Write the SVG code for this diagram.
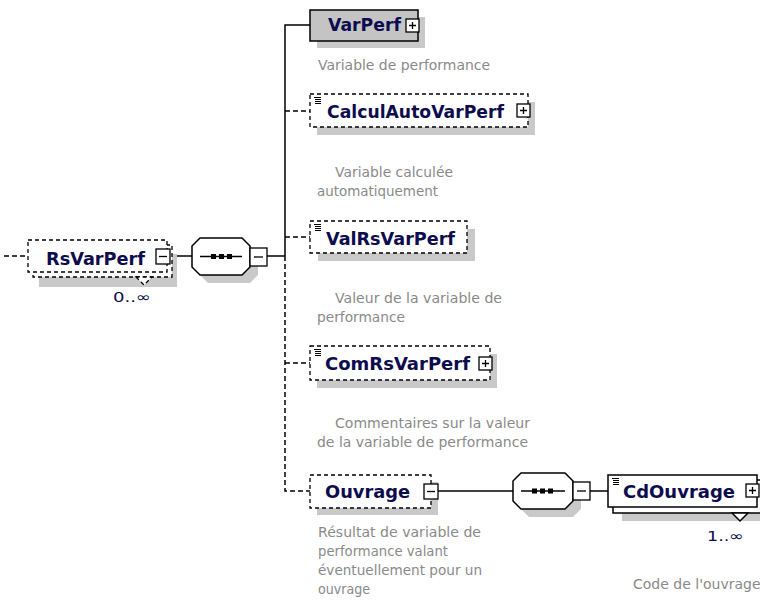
<svg xmlns="http://www.w3.org/2000/svg" xmlns:xlink="http://www.w3.org/1999/xlink" width="760" height="603" viewBox="0 0 760 603">
<style>
.name{font-family:"DejaVu Sans",Verdana,sans-serif;font-weight:bold;font-size:17px;fill:#0c0c4e}
.desc{font-family:"DejaVu Sans",Verdana,sans-serif;font-size:14px;fill:#8a8a8a}
.card{font-family:"DejaVu Sans",Verdana,sans-serif;font-size:14px;fill:#0c0c4e}
.shadow{fill:#c9c9c9}
.box{fill:#fff;stroke:#000;stroke-width:1.5}
.gbox{fill:#c4c4c4;stroke:#000;stroke-width:1.5}
.dbox{fill:#fff;stroke:#000;stroke-width:1.3;stroke-dasharray:4 3}
.ln{fill:none;stroke:#000;stroke-width:1.5}
.dln{fill:none;stroke:#000;stroke-width:1.5;stroke-dasharray:5 3}
</style>
<defs>
<g id="plus"><rect x="0" y="0" width="13" height="13" fill="#fff" stroke="#000" stroke-width="1.3"/><path d="M3,6.5H10M6.5,3V10" stroke="#000" stroke-width="1.3"/></g>
<g id="minus"><rect x="0" y="0" width="14" height="15" fill="#fff" stroke="#000" stroke-width="1.3"/><path d="M3,7.5H11" stroke="#000" stroke-width="1.3"/></g>
<g id="cminus"><rect x="0" y="0" width="17" height="18" fill="#fff" stroke="#000" stroke-width="1.3"/><path d="M4,9H13" stroke="#000" stroke-width="1.3"/></g>
<g id="icon"><path d="M0,0.5H7M1,2.5H7M1,4.5H7M1,6.5H7" stroke="#000" stroke-width="1"/></g>
<path id="oct1" d="M200,238H242L250,246V267L242,275H200L192,267V246Z"/>
<path id="oct2" d="M521,473H565L573,481V501L565,509H521L513,501V481Z"/>
</defs>
<rect width="760" height="603" fill="#fff"/>

<g id="connectors">
<path class="dln" d="M4,256H28"/>
<path class="ln" d="M170,256H192"/>
<path class="ln" d="M267,256H285"/>
<path class="ln" d="M310,25H285V256"/>
<path class="dln" d="M285,256V491H310"/>
<path class="dln" d="M285,111H310"/>
<path class="dln" d="M285,237H310"/>
<path class="dln" d="M285,363H310"/>
<path class="ln" d="M438,491H513"/>
<path class="ln" d="M590,491H608"/>
</g>

<g id="RsVarPerf">
<rect class="shadow" x="39" y="254" width="138" height="33"/>
<rect class="dbox" x="33" y="245" width="139" height="32"/>
<rect class="dbox" x="28" y="240" width="139" height="32"/>
<polygon class="dbox" points="136,277 144,285 152,277"/>
<text class="name" x="46" y="265" textLength="99" lengthAdjust="spacingAndGlyphs">RsVarPerf</text>
<use xlink:href="#minus" x="156" y="249"/>
<text class="card" x="113" y="302" textLength="38" lengthAdjust="spacingAndGlyphs">0..∞</text>
</g>

<g id="sequence1">
<use xlink:href="#oct1" class="shadow" transform="translate(8,8)"/>
<use xlink:href="#oct1" fill="#fff" stroke="#000" stroke-width="1.5"/>
<path class="ln" d="M200,256.5H242"/>
<rect x="211" y="254" width="5" height="5" fill="#000"/>
<rect x="219" y="254" width="5" height="5" fill="#000"/>
<rect x="227" y="254" width="5" height="5" fill="#000"/>
<use xlink:href="#cminus" x="250" y="248"/>
</g>

<g id="VarPerf">
<rect class="shadow" x="317" y="17" width="108" height="31"/>
<rect class="gbox" x="310" y="10" width="108" height="31"/>
<text class="name" x="328" y="31" textLength="73" lengthAdjust="spacingAndGlyphs">VarPerf</text>
<use xlink:href="#plus" x="406" y="19"/>
<text class="desc" x="318" y="70" textLength="172" lengthAdjust="spacingAndGlyphs">Variable de performance</text>
</g>

<g id="CalculAutoVarPerf">
<rect class="shadow" x="317" y="102" width="218" height="33"/>
<rect class="dbox" x="310" y="94" width="218" height="33"/>
<use xlink:href="#icon" x="314" y="97"/>
<text class="name" x="327" y="118" textLength="177" lengthAdjust="spacingAndGlyphs">CalculAutoVarPerf</text>
<use xlink:href="#plus" x="517" y="104"/>
<text class="desc" x="335" y="177" textLength="118" lengthAdjust="spacingAndGlyphs">Variable calculée</text>
<text class="desc" x="317" y="196" textLength="121" lengthAdjust="spacingAndGlyphs">automatiquement</text>
</g>

<g id="ValRsVarPerf">
<rect class="shadow" x="318" y="229" width="157" height="32"/>
<rect class="dbox" x="310" y="221" width="157" height="32"/>
<use xlink:href="#icon" x="314" y="224"/>
<text class="name" x="326" y="245" textLength="129" lengthAdjust="spacingAndGlyphs">ValRsVarPerf</text>
<text class="desc" x="335" y="303" textLength="167" lengthAdjust="spacingAndGlyphs">Valeur de la variable de</text>
<text class="desc" x="317" y="322" textLength="88" lengthAdjust="spacingAndGlyphs">performance</text>
</g>

<g id="ComRsVarPerf">
<rect class="shadow" x="317" y="354" width="180" height="34"/>
<rect class="dbox" x="310" y="346" width="180" height="34"/>
<use xlink:href="#icon" x="314" y="349"/>
<text class="name" x="325" y="370" textLength="145" lengthAdjust="spacingAndGlyphs">ComRsVarPerf</text>
<use xlink:href="#plus" x="479" y="357"/>
<text class="desc" x="335" y="428" textLength="195" lengthAdjust="spacingAndGlyphs">Commentaires sur la valeur</text>
<text class="desc" x="317" y="447" textLength="211" lengthAdjust="spacingAndGlyphs">de la variable de performance</text>
</g>

<g id="Ouvrage">
<rect class="shadow" x="317" y="482" width="121" height="33"/>
<rect class="dbox" x="310" y="475" width="121" height="33"/>
<text class="name" x="325" y="498" textLength="85" lengthAdjust="spacingAndGlyphs">Ouvrage</text>
<use xlink:href="#minus" x="424" y="484"/>
<text class="desc" x="318" y="537" textLength="163" lengthAdjust="spacingAndGlyphs">Résultat de variable de</text>
<text class="desc" x="318" y="556" textLength="130" lengthAdjust="spacingAndGlyphs">performance valant</text>
<text class="desc" x="318" y="575" textLength="164" lengthAdjust="spacingAndGlyphs">éventuellement pour un</text>
<text class="desc" x="318" y="594" textLength="52" lengthAdjust="spacingAndGlyphs">ouvrage</text>
</g>

<g id="sequence2">
<use xlink:href="#oct2" class="shadow" transform="translate(8,8)"/>
<use xlink:href="#oct2" fill="#fff" stroke="#000" stroke-width="1.5"/>
<path class="ln" d="M521,491H565"/>
<rect x="532" y="488.5" width="5" height="5" fill="#000"/>
<rect x="540" y="488.5" width="5" height="5" fill="#000"/>
<rect x="548" y="488.5" width="5" height="5" fill="#000"/>
<use xlink:href="#cminus" x="573" y="482"/>
</g>

<g id="CdOuvrage">
<rect class="shadow" x="622" y="488" width="150" height="33"/>
<rect class="box" x="613" y="480" width="149" height="33"/>
<rect class="box" x="608" y="475" width="149" height="32"/>
<polygon class="box" points="732,513 740,521 748,513" stroke-width="1.2"/>
<use xlink:href="#icon" x="612" y="478"/>
<text class="name" x="623" y="498" textLength="112" lengthAdjust="spacingAndGlyphs">CdOuvrage</text>
<use xlink:href="#plus" x="746" y="484"/>
<text class="card" x="707" y="541" textLength="37" lengthAdjust="spacingAndGlyphs">1..∞</text>
<text class="desc" x="633" y="589">Code de l'ouvrage</text>
</g>
</svg>
